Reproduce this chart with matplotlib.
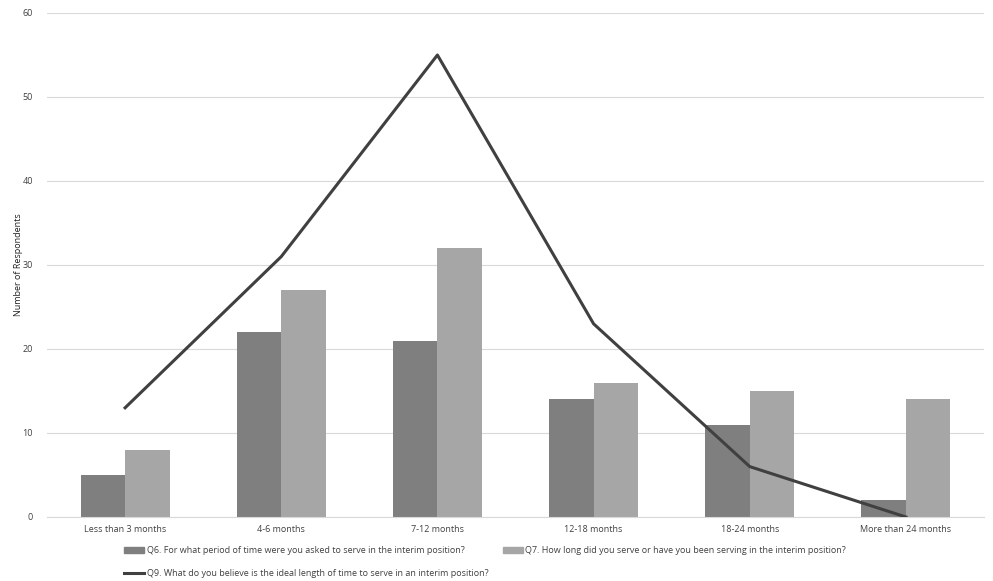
import matplotlib
matplotlib.use("Agg")
import matplotlib.pyplot as plt
import numpy as np
from matplotlib.patches import Patch
from matplotlib.lines import Line2D

categories = ["Less than 3 months", "4-6 months", "7-12 months", "12-18 months", "18-24 months", "More than 24 months"]
q6 = [5, 22, 21, 14, 11, 2]
q7 = [8, 27, 32, 16, 15, 14]
q9 = [13, 31, 55, 23, 6, 0]
labels = ["Q6. For what period of time were you asked to serve in the interim position?",
          "Q7. How long did you serve or have you been serving in the interim position?",
          "Q9. What do you believe is the ideal length of time to serve in an interim position?"]
yticks = [0, 10, 20, 30, 40, 50, 60]

plt.rcParams['font.family'] = ['Open Sans', 'DejaVu Sans']
fig = plt.figure(figsize=(9.93, 5.81), dpi=100)
ax = fig.add_axes([47/993, 64/581, 937/993, 504/581])

x = np.arange(len(categories))
w = 0.285
c6, c7, c9 = '#7f7f7f', '#a6a6a6', '#404040'
ax.bar(x - w/2, q6, w, color=c6, zorder=2)
ax.bar(x + w/2, q7, w, color=c7, zorder=2)
ax.plot(x, q9, color=c9, lw=2.2, zorder=3)

ax.set_xlim(-0.5, len(categories) - 0.5)
ax.set_ylim(0, 60)
ax.set_yticks(yticks)
ax.set_xticks(x)
ax.set_xticklabels(categories)
ax.tick_params(axis='both', length=0, labelsize=6.5, colors='#404040', pad=6)
ax.tick_params(axis='y', pad=10)
ax.grid(axis='y', color='#d9d9d9', lw=0.8, zorder=0)
for s in ['left', 'right', 'top']:
    ax.spines[s].set_visible(False)
ax.spines['bottom'].set_color('#d9d9d9')
ax.set_ylabel("Number of Respondents", fontsize=6.5, color='#202020')
ax.yaxis.set_label_coords(-24/937, 0.5)

handles = [Patch(color=c6), Line2D([], [], color=c9, lw=2.2), Patch(color=c7)]
fig.legend(handles, [labels[0], labels[2], labels[1]], ncol=2, loc='upper left',
           bbox_to_anchor=(124/993, 1 - 546/581), frameon=False, fontsize=6.5,
           handlelength=2.2, handleheight=0.6, handletextpad=0.3, columnspacing=1.6,
           labelspacing=1.5, borderaxespad=0, borderpad=0, labelcolor='#404040')

fig.savefig("out.png", dpi=100, facecolor='white')
